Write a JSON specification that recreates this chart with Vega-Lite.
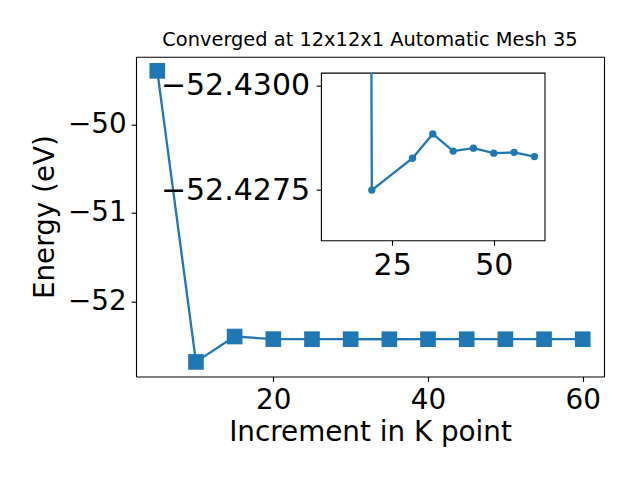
{
  "$schema": "https://vega.github.io/schema/vega-lite/v6.json",
  "autosize": {"type": "none"},
  "padding": {"left": 136, "top": 56.7, "right": 504, "bottom": 423.3},
  "background": "white",
  "config": {
    "font": "DejaVu Sans",
    "view": {"stroke": "black", "strokeWidth": 1.1},
    "axis": {
      "domain": false,
      "grid": false,
      "ticks": true,
      "tickSize": 4.9,
      "tickWidth": 1.1,
      "tickColor": "black",
      "domainColor": "black",
      "domainWidth": 1.1,
      "labelFont": "DejaVu Sans",
      "labelFontSize": 27.8,
      "labelColor": "black",
      "labelPadding": 4.9,
      "labelFlush": false,
      "labelOverlap": false,
      "titleFont": "DejaVu Sans",
      "titleFontSize": 27.8,
      "titleFontWeight": "normal",
      "titleColor": "black"
    }
  },
  "bounds": "flush",
  "spacing": 0,
  "hconcat": [
    {
      "width": 185,
      "height": 319.8,
      "view": {"stroke": null},
      "title": {
        "text": "Converged at 12x12x1 Automatic Mesh 35",
        "fontSize": 19.4,
        "fontWeight": "normal",
        "font": "DejaVu Sans",
        "color": "black",
        "anchor": "middle",
        "baseline": "alphabetic",
        "offset": 8.3,
        "dx": 141.5,
        "dy": 16.5
      },
      "data": {
        "values": [
          {"kpoint": 5, "energy": -49.395},
          {"kpoint": 10, "energy": -52.685},
          {"kpoint": 15, "energy": -52.398},
          {"kpoint": 20, "energy": -52.4275},
          {"kpoint": 25, "energy": -52.428},
          {"kpoint": 30, "energy": -52.4283},
          {"kpoint": 35, "energy": -52.4288},
          {"kpoint": 40, "energy": -52.4284},
          {"kpoint": 45, "energy": -52.4285},
          {"kpoint": 50, "energy": -52.4284},
          {"kpoint": 55, "energy": -52.4284},
          {"kpoint": 60, "energy": -52.4283}
        ]
      },
      "layer": [
        {
          "mark": {"type": "line", "color": "#1f77b4", "strokeWidth": 2.3},
          "encoding": {
            "x": {
              "field": "kpoint",
              "type": "quantitative",
              "scale": {"domain": [2.25, 62.75], "range": [0, 468], "nice": false, "zero": false},
              "axis": {"orient": "bottom", "domain": true, "values": [20, 40, 60], "title": "Increment in K point", "titlePadding": 4}
            },
            "y": {
              "field": "energy",
              "type": "quantitative",
              "scale": {"domain": [-52.85, -49.235], "nice": false, "zero": false},
              "axis": {"orient": "left", "domain": true, "values": [-52, -51, -50], "format": "d", "title": "Energy (eV)", "titlePadding": 8}
            }
          }
        },
        {
          "mark": {"type": "point", "shape": "square", "size": 245, "filled": true, "opacity": 1, "color": "#1f77b4"},
          "encoding": {
            "x": {
              "field": "kpoint",
              "type": "quantitative",
              "axis": {"orient": "top", "domain": true, "ticks": false, "labels": false, "title": null}
            },
            "y": {
              "field": "energy",
              "type": "quantitative",
              "axis": {"orient": "right", "offset": 283, "domain": true, "ticks": false, "labels": false, "title": null}
            }
          }
        }
      ],
      "resolve": {"axis": {"x": "independent", "y": "independent"}}
    },
    {
      "bounds": "flush",
      "spacing": 0,
      "vconcat": [
        {
          "width": 224,
          "height": 15.6,
          "view": {"stroke": null},
          "data": {"values": []},
          "mark": "point"
        },
        {
          "width": 223.6,
          "height": 167.7,
          "view": {"fill": "white", "stroke": "black", "strokeWidth": 1.1},
          "data": {
            "values": [
              {"kpoint": 10, "energy": -52.685},
              {"kpoint": 20, "energy": -52.4275},
              {"kpoint": 30, "energy": -52.42826},
              {"kpoint": 35, "energy": -52.42884},
              {"kpoint": 40, "energy": -52.42843},
              {"kpoint": 45, "energy": -52.4285},
              {"kpoint": 50, "energy": -52.42838},
              {"kpoint": 55, "energy": -52.4284},
              {"kpoint": 60, "energy": -52.4283}
            ]
          },
          "mark": {
            "type": "line",
            "color": "#1f77b4",
            "strokeWidth": 2.3,
            "clip": true,
            "point": {"shape": "circle", "size": 54, "filled": true, "opacity": 1, "color": "#1f77b4"}
          },
          "encoding": {
            "x": {
              "field": "kpoint",
              "type": "quantitative",
              "scale": {"domain": [7.5, 62.5], "nice": false, "zero": false},
              "axis": {"values": [25, 50], "title": null, "labelFontSize": 30}
            },
            "y": {
              "field": "energy",
              "type": "quantitative",
              "scale": {"domain": [-52.4303, -52.4263], "reverse": true, "nice": false, "zero": false},
              "axis": {"values": [-52.43, -52.4275], "format": ".4f", "title": null, "labelFontSize": 30, "labelPadding": 6.5}
            }
          }
        }
      ]
    }
  ]
}
